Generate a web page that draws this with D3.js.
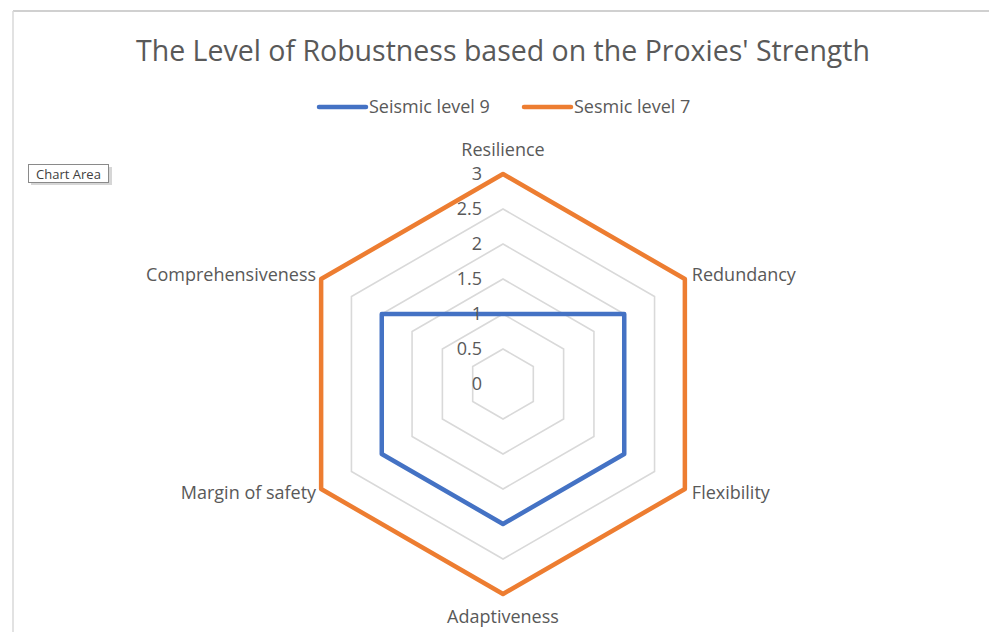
<!DOCTYPE html>
<html><head><meta charset="utf-8">
<script src="https://cdn.jsdelivr.net/npm/d3@7"></script>
<style>
body{margin:0;background:#fff;}
svg{display:block;font-family:"Open Sans","Noto Sans",sans-serif;}
</style></head>
<body>
<svg id="chart" width="989" height="632"></svg>
<script>
const categories = ["Resilience","Redundancy","Flexibility","Adaptiveness","Margin of safety","Comprehensiveness"];
const seriesNames = ["Seismic level 9","Sesmic level 7"];
const level9 = [1,2,2,2,2,2];
const level7 = [3,3,3,3,3,3];
const tickValues = [0,0.5,1,1.5,2,2.5,3];
const tickLabels = ["0","0.5","1","1.5","2","2.5","3"];
const colors = ["#4472C4","#ED7D31"];
const titleText = "The Level of Robustness based on the Proxies' Strength";

const svg = d3.select("#chart");
const cx = 503, cy = 384;
const r = d3.scaleLinear().domain([0,3]).range([0,210]);
const angle = d3.scaleLinear().domain([0,categories.length]).range([-Math.PI/2, 1.5*Math.PI]);
const pt = (i,v)=>[cx+r(v)*Math.cos(angle(i)), cy+r(v)*Math.sin(angle(i))];

// chart area border
svg.append("line").attr("x1",13).attr("x2",989).attr("y1",11).attr("y2",11).attr("stroke","#d0d0d0").attr("stroke-width",2);
svg.append("line").attr("x1",13).attr("x2",13).attr("y1",11).attr("y2",632).attr("stroke","#d9d9d9").attr("stroke-width",1.5);

// title
svg.append("text").attr("x",503).attr("y",61).attr("text-anchor","middle")
  .attr("font-size",28.5).attr("fill","#595959").text(titleText);

// legend
const legendX = [319,524];
seriesNames.forEach((n,i)=>{
  const g = svg.append("g");
  g.append("line").attr("x1",legendX[i]).attr("x2",legendX[i]+47).attr("y1",107).attr("y2",107)
    .attr("stroke",colors[i]).attr("stroke-width",4.5).attr("stroke-linecap","round");
  g.append("text").attr("x",legendX[i]+50).attr("y",113).attr("font-size",18).attr("fill","#595959").text(n);
});

// grid
const line = d3.line().curve(d3.curveLinearClosed);
tickValues.filter(v=>v>0).forEach(v=>{
  svg.append("path").attr("d",line(categories.map((c,i)=>pt(i,v))))
    .attr("fill","none").attr("stroke","#d9d9d9").attr("stroke-width",1.6);
});

// series
[level9, level7].forEach((data,si)=>{
  svg.append("path").attr("d",line(data.map((v,i)=>pt(i,v))))
    .attr("fill","none").attr("stroke",colors[si]).attr("stroke-width",4.5).attr("stroke-linejoin","round");
});

// tick labels
tickValues.forEach((v,k)=>{
  svg.append("text").attr("x",cx-21).attr("y",cy-r(v)).attr("dy","0.36em").attr("text-anchor","end")
    .attr("font-size",18).attr("fill","#595959").text(tickLabels[k]);
});

// category labels
categories.forEach((c,i)=>{
  const [x,y] = pt(i,3);
  const a = angle(i);
  const cosA = Math.cos(a), sinA = Math.sin(a);
  const vertical = Math.abs(cosA)<0.01;
  let anchor = vertical ? "middle" : (cosA>0?"start":"end");
  let lx = x + (anchor==="start"?7:anchor==="end"?-5:0);
  let ly = y + (vertical ? (sinA<0?-24:23) : (sinA<0?-4:4));
  svg.append("text").attr("x",lx).attr("y",ly).attr("dy","0.36em").attr("text-anchor",anchor)
    .attr("font-size",18).attr("fill","#595959").text(c);
});

// "Chart Area" tooltip
const tip = svg.append("g");
tip.append("rect").attr("x",31).attr("y",167).attr("width",81).attr("height",18).attr("fill","#bbb").attr("opacity",0.6);
tip.append("rect").attr("x",28.5).attr("y",164.5).attr("width",80).attr("height",18).attr("fill","#fff").attr("stroke","#8a8a8a").attr("stroke-width",1);
tip.append("text").attr("x",68.5).attr("y",178.5).attr("text-anchor","middle").attr("font-size",13).attr("fill","#404040").text("Chart Area");
</script>
</body></html>
